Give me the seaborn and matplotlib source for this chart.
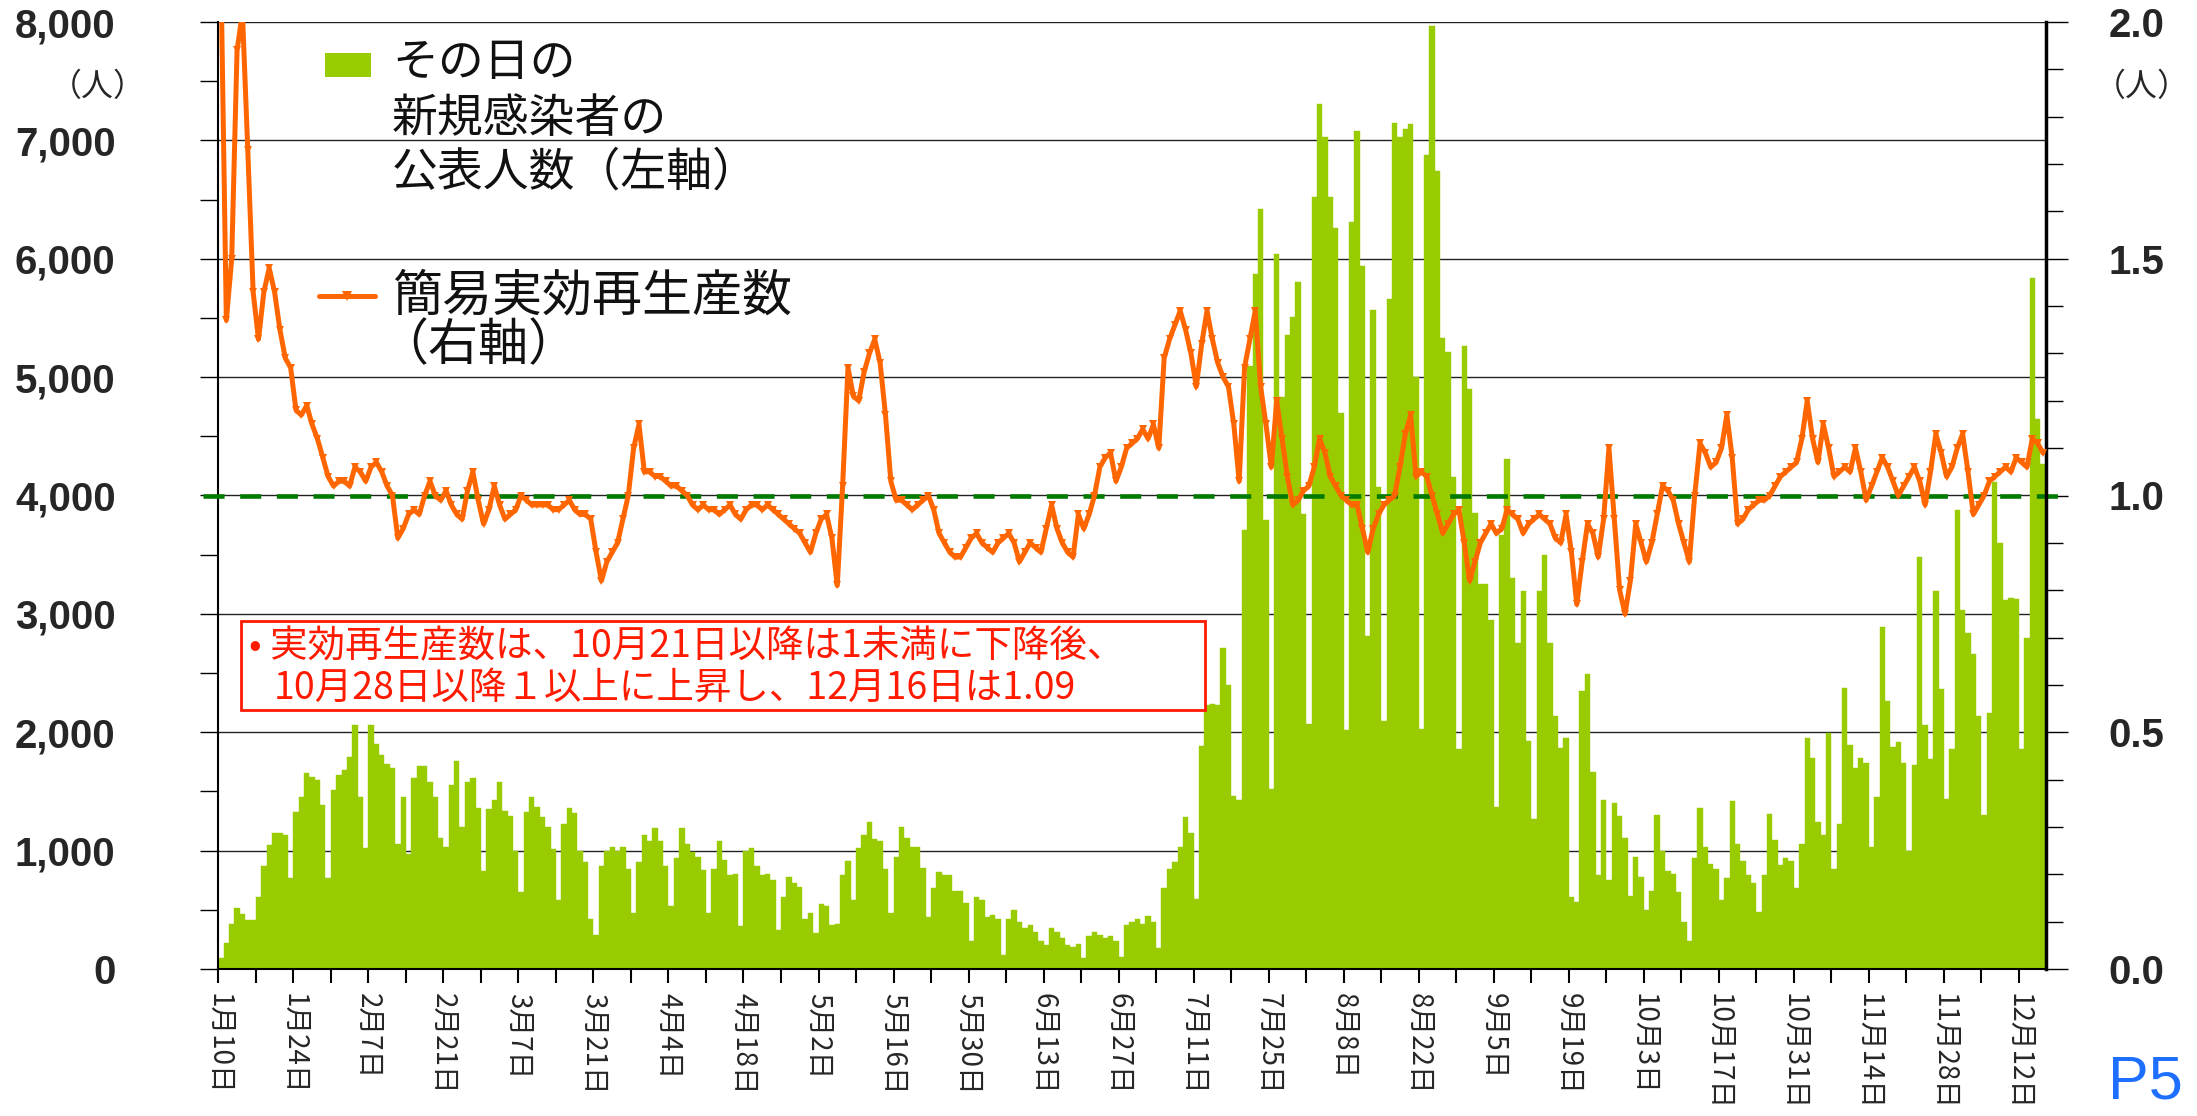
import numpy as np
import pandas as pd
import matplotlib
matplotlib.use('Agg')
import matplotlib.pyplot as plt
import seaborn as sns
from matplotlib.patches import Rectangle
from matplotlib.lines import Line2D
from matplotlib.ticker import MultipleLocator, FuncFormatter

# daily new cases (left axis), Jan 10 .. Dec 16
cases = [
    95, 220, 380, 517, 464, 412, 412, 607, 871, 1045,
    1150, 1150, 1135, 765, 1330, 1456, 1652, 1620, 1600, 1388,
    765, 1510, 1636, 1678, 1794, 2058, 1451, 1018, 2058, 1900,
    1805, 1731, 1700, 1055, 1450, 975, 1610, 1715, 1715, 1580,
    1450, 1110, 1030, 1555, 1760, 1200, 1580, 1610, 1360, 830,
    1355, 1425, 1580, 1335, 1290, 1000, 650, 1330, 1450, 1370,
    1280, 1200, 1010, 580, 1225, 1360, 1320, 1000, 900, 420,
    290, 870, 1000, 1030, 1000, 1030, 845, 475, 900, 1135,
    1080, 1190, 1080, 870, 530, 940, 1190, 1055, 990, 950,
    835, 475, 845, 1080, 920, 790, 805, 360, 1000, 1020,
    870, 790, 800, 750, 330, 605, 780, 730, 695, 420,
    475, 305, 545, 530, 370, 380, 790, 910, 580, 1020,
    1135, 1240, 1100, 1080, 845, 475, 950, 1200, 1110, 1030,
    1030, 855, 440, 685, 820, 790, 790, 660, 660, 555,
    240, 605, 580, 440, 460, 420, 120, 420, 500, 395,
    345, 370, 315, 240, 200, 345, 315, 265, 200, 185,
    210, 95, 280, 315, 290, 265, 280, 240, 105, 370,
    395, 420, 380, 450, 395, 175, 685, 845, 900, 1030,
    1280, 1150, 595, 1885, 2230, 2240, 2230, 2710, 2400, 1460,
    1425, 3710, 5090, 5870, 6420, 3790, 1520, 6040, 4830, 5360,
    5510, 5800, 3840, 2070, 6520, 7310, 7030, 6520, 6260, 4700,
    2015, 6310, 7080, 5940, 2810, 5570, 4070, 2095, 5660, 7150,
    7030, 7100, 7135, 5000, 2030, 6880, 7970, 6740, 5330, 5210,
    4160, 1860, 5260, 4900, 3850, 3250, 3250, 2950, 1370, 3670,
    4310, 3300, 2755, 3190, 1925, 1265, 3190, 3495, 2755, 2135,
    1870, 1950, 605, 565, 2350, 2490, 1660, 790, 1425, 750,
    1400, 1290, 1110, 615, 950, 780, 500, 660, 1300, 1000,
    830, 800, 650, 395, 240, 935, 1360, 1030, 885, 845,
    580, 765, 1415, 1055, 910, 790, 730, 485, 790, 1310,
    1090, 880, 935, 910, 685, 1055, 1950, 1785, 1240, 1135,
    1995, 845, 1225, 2375, 1890, 1700, 1785, 1740, 1030, 1450,
    2890, 2260, 1875, 1915, 1740, 1000, 1725, 3480, 2060, 1770,
    3190, 2365, 1435, 1860, 3880, 3035, 2840, 2665, 2135, 1305,
    2165, 4115, 3600, 3115, 3130, 3125, 1860, 2800, 5840, 4645,
    4265,
]

# simple effective reproduction number (right axis)
rt = [
    2.10, 1.37, 1.50, 1.94, 2.02, 1.73, 1.43, 1.33, 1.43, 1.48,
    1.43, 1.35, 1.29, 1.27, 1.18, 1.17, 1.19, 1.15, 1.12, 1.08,
    1.04, 1.02, 1.03, 1.03, 1.02, 1.06, 1.05, 1.03, 1.06, 1.07,
    1.05, 1.02, 1.00, 0.91, 0.93, 0.96, 0.97, 0.96, 1.00, 1.03,
    1.00, 0.99, 1.01, 0.98, 0.96, 0.95, 1.01, 1.05, 0.99, 0.94,
    0.97, 1.02, 0.98, 0.95, 0.96, 0.97, 1.00, 0.99, 0.98, 0.98,
    0.98, 0.98, 0.97, 0.97, 0.98, 0.99, 0.97, 0.96, 0.96, 0.95,
    0.88, 0.82, 0.86, 0.88, 0.90, 0.95, 1.00, 1.10, 1.15, 1.05,
    1.05, 1.04, 1.04, 1.03, 1.02, 1.02, 1.01, 1.00, 0.98, 0.97,
    0.98, 0.97, 0.97, 0.96, 0.97, 0.98, 0.96, 0.95, 0.97, 0.98,
    0.98, 0.97, 0.98, 0.97, 0.96, 0.95, 0.94, 0.93, 0.92, 0.90,
    0.88, 0.92, 0.95, 0.96, 0.91, 0.81, 1.02, 1.27, 1.21, 1.20,
    1.26, 1.30, 1.33, 1.28, 1.17, 1.03, 0.99, 0.99, 0.98, 0.97,
    0.98, 0.99, 1.00, 0.97, 0.92, 0.90, 0.88, 0.87, 0.87, 0.89,
    0.91, 0.92, 0.90, 0.89, 0.88, 0.90, 0.91, 0.92, 0.90, 0.86,
    0.88, 0.90, 0.89, 0.88, 0.93, 0.98, 0.93, 0.90, 0.88, 0.87,
    0.96, 0.93, 0.96, 1.00, 1.06, 1.08, 1.09, 1.03, 1.06, 1.10,
    1.11, 1.12, 1.14, 1.12, 1.15, 1.10, 1.29, 1.33, 1.36, 1.39,
    1.35, 1.30, 1.23, 1.32, 1.39, 1.33, 1.28, 1.25, 1.23, 1.15,
    1.03, 1.27, 1.33, 1.39, 1.23, 1.15, 1.06, 1.20, 1.12, 1.04,
    0.98, 0.99, 1.01, 1.02, 1.06, 1.12, 1.09, 1.04, 1.02, 1.00,
    0.99, 0.98, 0.98, 0.93, 0.88, 0.93, 0.96, 0.98, 0.99, 1.00,
    1.06, 1.13, 1.17, 1.04, 1.05, 1.04, 1.00, 0.96, 0.92, 0.94,
    0.96, 0.97, 0.90, 0.82, 0.86, 0.90, 0.92, 0.94, 0.92, 0.93,
    0.97, 0.96, 0.95, 0.92, 0.94, 0.95, 0.96, 0.95, 0.94, 0.91,
    0.90, 0.96, 0.88, 0.77, 0.86, 0.94, 0.92, 0.87, 0.95, 1.10,
    0.95, 0.80, 0.75, 0.82, 0.94, 0.90, 0.86, 0.90, 0.96, 1.02,
    1.01, 0.99, 0.94, 0.90, 0.86, 1.00, 1.11, 1.09, 1.06, 1.07,
    1.10, 1.17, 1.08, 0.94, 0.95, 0.97, 0.98, 0.99, 0.99, 1.00,
    1.02, 1.04, 1.05, 1.06, 1.07, 1.12, 1.20, 1.12, 1.07, 1.15,
    1.10, 1.04, 1.05, 1.06, 1.05, 1.10, 1.05, 0.99, 1.02, 1.05,
    1.08, 1.06, 1.03, 1.00, 1.02, 1.04, 1.06, 1.03, 0.98, 1.05,
    1.13, 1.09, 1.04, 1.06, 1.10, 1.13, 1.05, 0.96, 0.98, 1.00,
    1.03, 1.04, 1.05, 1.06, 1.05, 1.08, 1.07, 1.06, 1.12, 1.11,
    1.09,
]

# x labels every 14 days, starting Jan 10
tick_labels = ['1月10日', '1月24日', '2月7日', '2月21日', '3月7日', '3月21日',
               '4月4日', '4月18日', '5月2日', '5月16日', '5月30日', '6月13日',
               '6月27日', '7月11日', '7月25日', '8月8日', '8月22日', '9月5日',
               '9月19日', '10月3日', '10月17日', '10月31日', '11月14日',
               '11月28日', '12月12日']

note_lines = ['• 実効再生産数は、10月21日以降は1未満に下降後、',
              '10月28日以降１以上に上昇し、12月16日は1.09']

df = pd.DataFrame({'day': np.arange(len(cases)), 'cases': cases, 'rt': rt})

sns.set_theme(style='white')
plt.rcParams['font.family'] = ['Liberation Sans', 'Noto Sans CJK JP', 'DejaVu Sans']
cjk = ['Noto Sans CJK JP', 'DejaVu Sans']

W, H = 2197, 1116
fx = lambda px: px / W
fy = lambda py: 1 - py / H

fig = plt.figure(figsize=(W / 100, H / 100), dpi=100)
ax = fig.add_axes([fx(218.3), fy(969), (2045.7 - 218.3) / W, (969 - 22) / H])

GREEN = '#99CC00'
ORANGE = '#FF6600'

sns.barplot(data=df, x='day', y='cases', color=GREEN, saturation=1, width=1.0,
            edgecolor=GREEN, linewidth=0.3, ax=ax)
ax.set_ylim(0, 8000)
ax.set_xlabel('')
ax.set_ylabel('')
ax.yaxis.grid(True, color='#222222', lw=1.0)
ax.set_axisbelow(True)

ax2 = ax.twinx()
ax2.axhline(1.0, xmin=-0.0084, xmax=1.0095, color='#007A00', lw=3.3,
            dashes=(4.6, 3.4), clip_on=False, zorder=2)
sns.lineplot(data=df, x='day', y='rt', ax=ax2, color=ORANGE, linewidth=3.6,
             marker='v', markersize=6, markeredgewidth=0, zorder=3, legend=False)
ax2.set_ylim(0, 2.0)
ax2.set_xlabel('')
ax2.set_ylabel('')

ax.set_xlim(-0.5, len(cases) - 0.5)

# spines
for a in (ax, ax2):
    a.spines['top'].set_visible(False)
for s in ('left', 'bottom'):
    ax2.spines[s].set_visible(False)
ax.spines['right'].set_visible(False)
ax.spines['left'].set_color('black')
ax.spines['left'].set_linewidth(1.5)
ax.spines['bottom'].set_color('black')
ax.spines['bottom'].set_linewidth(1.5)
ax2.spines['right'].set_color('black')
ax2.spines['right'].set_linewidth(2.5)

# x ticks
major_pos = np.arange(0, len(cases), 14) - 0.5
minor_pos = np.arange(7, len(cases), 14) - 0.5
ax.set_xticks(major_pos, tick_labels)
ax.set_xticks(minor_pos, minor=True)
ax.tick_params(axis='x', which='both', bottom=True, direction='out', length=10,
               width=1.5, color='black')
ax.tick_params(axis='x', which='major', labelsize=20, pad=7, labelrotation=-90)
for t in ax.get_xticklabels():
    t.set_fontfamily(cjk)
    t.set_va('top')
    t.set_ha('center')

# left y ticks
ax.yaxis.set_major_locator(MultipleLocator(1000))
ax.yaxis.set_minor_locator(MultipleLocator(500))
ax.yaxis.set_major_formatter(FuncFormatter(lambda v, p: f'{int(v):,}'))
ax.tick_params(axis='y', which='both', left=True, direction='out', length=13,
               width=1, color='black')
ax.tick_params(axis='y', which='major', labelsize=29, pad=61)
for t in ax.get_yticklabels():
    t.set_fontweight('bold')

# right y ticks
ax2.yaxis.set_major_locator(MultipleLocator(0.5))
ax2.yaxis.set_minor_locator(MultipleLocator(0.1))
ax2.yaxis.set_major_formatter(FuncFormatter(lambda v, p: f'{v:.1f}'))
ax2.tick_params(axis='y', which='major', right=True, direction='out', length=16,
                width=1, color='black', labelsize=29, pad=29)
ax2.tick_params(axis='y', which='minor', right=True, direction='out', length=12.5,
                width=1, color='black')
for t in ax2.get_yticklabels():
    t.set_fontweight('bold')

# unit labels
fig.text(fx(98), fy(87), '（人）', ha='center', va='center', fontsize=23, family=cjk)
fig.text(fx(2142), fy(87), '（人）', ha='center', va='center', fontsize=23, family=cjk)

# legend
fig.add_artist(Rectangle((fx(325), fy(77)), 46 / W, 24 / H, transform=fig.transFigure,
                         facecolor=GREEN, edgecolor='none'))
fig.add_artist(Line2D([fx(319), fx(347), fx(375)], [fy(296)] * 3, transform=fig.transFigure,
                      color=ORANGE, lw=3.6, marker='v', markersize=7, markevery=[1],
                      markeredgewidth=0))
for txt, py, size in [('その日の', 63, 33), ('新規感染者の', 119, 33),
                      ('公表人数（左軸）', 172, 33), ('簡易実効再生産数', 296, 36),
                      ('（右軸）', 346, 36)]:
    fig.text(fx(392 if not txt.startswith('（') else 378), fy(py), txt, ha='left',
             va='center', fontsize=size, color='#111111', family=cjk)

# note box
fig.add_artist(Rectangle((fx(241), fy(710)), (1205 - 241) / W, (710 - 621) / H,
                         transform=fig.transFigure, facecolor='white',
                         edgecolor='#FF1A00', lw=2, zorder=5))
fig.text(fx(249), fy(647), note_lines[0], ha='left', va='center', fontsize=27,
         color='#FF1A00', family=cjk, zorder=6)
fig.text(fx(274), fy(688), note_lines[1], ha='left', va='center', fontsize=27,
         color='#FF1A00', family=cjk, zorder=6)

fig.text(fx(2108), fy(1083), 'P5', ha='left', va='center', fontsize=44,
         color='#1E6EFF', family='Liberation Sans')

fig.savefig('out.png', dpi=100, facecolor='white')
